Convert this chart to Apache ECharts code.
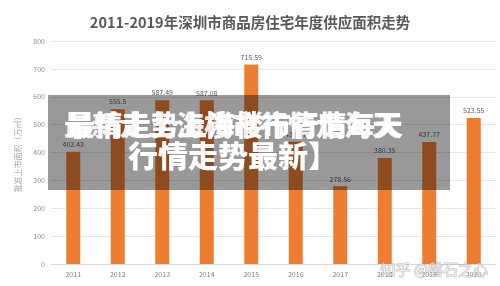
<!DOCTYPE html>
<html><head><meta charset="utf-8">
<script src="https://cdn.jsdelivr.net/npm/echarts@6/dist/echarts.min.js"></script>
<style>html,body{margin:0;padding:0;background:#fff}#c{width:500px;height:286px}</style>
</head><body><div id="c"></div>
<script>
const categories = ['2011','2012','2013','2014','2015','2016','2017','2018','2019','2020'];
const values = [402.43, 555.5, 587.49, 587.08, 715.59, 438.57, 278.56, 380.35, 437.77, 523.55];
const yTicks = [0, 100, 200, 300, 400, 500, 600, 700, 800];
const titleText = '2011-2019年深圳市商品房住宅年度供应面积走势';
const yAxisName = '批准上市面积（万㎡）';
const overlayLine1a = '最情走势上海楼市行情每天';
const overlayLine1b = '最新走上海楼市行情走海天';
const overlayLine2 = '行情走势最新】';
const watermark = '知乎 @磐石之心';

const font = '"Noto Sans CJK SC", "Noto Sans", sans-serif';
const chart = echarts.init(document.getElementById('c'));
chart.setOption({
  animation: false,
  backgroundColor: '#fff',
  textStyle: { fontFamily: font },
  title: {
    text: titleText, left: 'center', top: 10,
    textStyle: { fontSize: 14.5, fontWeight: 'bold', color: '#595959', fontFamily: font }
  },
  grid: { left: 51, right: 4, top: 41, bottom: 22 },
  xAxis: {
    type: 'category', data: categories,
    axisLine: { lineStyle: { color: '#d9d9d9' } },
    axisTick: { show: false },
    axisLabel: { color: '#7f7f7f', fontSize: 7, margin: 7 }
  },
  yAxis: {
    type: 'value', min: yTicks[0], max: yTicks[yTicks.length - 1], interval: 100,
    name: yAxisName, nameLocation: 'middle', nameGap: 20, nameRotate: 90,
    nameTextStyle: { color: '#a6a6a6', fontSize: 8 },
    axisLine: { show: false }, axisTick: { show: false },
    axisLabel: { color: '#8c8c8c', fontSize: 7, margin: 6 },
    splitLine: { lineStyle: { color: '#e6e6e6' } }
  },
  series: [{
    type: 'bar', data: values, barWidth: 14,
    itemStyle: { color: '#ED7D31' },
    label: { show: true, position: 'top', color: '#595959', fontSize: 7, distance: 4 }
  }],
  graphic: [
    { type: 'rect', left: 48, top: 95, shape: { width: 402, height: 95 }, style: { fill: 'rgba(0,0,0,0.4)' }, z: 100 },
    { type: 'text', left: 64, top: 111, z: 101, style: { text: overlayLine1b, fill: '#fff', font: '900 28px ' + font, opacity: 0.9 } },
    { type: 'text', left: 67, top: 111, z: 102, style: { text: overlayLine1a, fill: '#fff', font: '900 28px ' + font } },
    { type: 'text', left: 128, top: 141, z: 102, style: { text: overlayLine2, fill: '#fff', font: '900 30px ' + font } },
    { type: 'text', left: 380, top: 261, z: 103, style: { text: watermark, fill: 'rgba(255,255,255,0.6)', stroke: 'rgba(150,150,150,0.6)', lineWidth: 1, font: '15px ' + font } }
  ]
});
</script></body></html>
